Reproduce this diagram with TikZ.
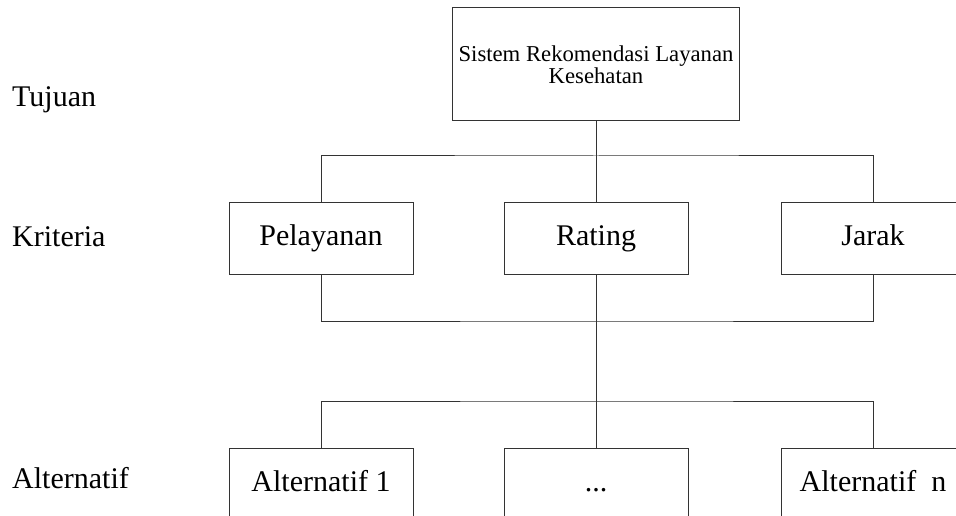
\documentclass[tikz,border=0pt]{standalone}
\usepackage{fontspec}
\setmainfont{Liberation Serif}
\usetikzlibrary{positioning}

\tikzset{
	box/.style={draw, line width=1pt, color=black!80, text=black, minimum width=184pt, minimum height=72pt, inner sep=0pt, text height=21pt, text depth=7pt, font=\fontsize{30}{36}\selectfont},
	goalbox/.style={draw, line width=1pt, color=black!80, text=black, minimum width=287pt, minimum height=113pt, inner sep=0pt, align=center, font=\fontsize{22.7}{24.5}\selectfont},
	level/.style={anchor=base west, inner sep=0pt, font=\fontsize{30}{36}\selectfont},
	link/.style={line width=1pt, color=black!80}
}

\begin{document}
\begin{tikzpicture}[x=1pt, y=-1pt]
			\clip (0,0) rectangle (956,516);
			\fill[white] (0,0) rectangle (956,516);

			\node[level] (tujuan) at (12,107) {Tujuan};
			\node[level] (kriteria) at (12,246) {Kriteria};
			\node[level] (alternatif) at (12,488) {Alternatif};

			\node[goalbox] (goal) at (596,64.5) {\raisebox{-3pt}{Sistem Rekomendasi Layanan}\\Kesehatan};

			\node[box] (pelayanan) at (321,238) {Pelayanan};
			\node[box] (rating) at (596,238) {Rating};
			\node[box] (jarak) at (873,238) {Jarak};

			\node[box] (alt1) at (321,484) {Alternatif 1};
			\node[box] (altdots) at (596,484) {...};
			\node[box] (altn) at (873,484) {Alternatif\ \ n};

			\coordinate (topbar) at (596,156);
			\coordinate (midbar) at (596,321);
			\coordinate (lowbar) at (596,401);

			\draw[link] (goal) -- (rating);
			\draw[link] (pelayanan.north) |- (topbar) -| (jarak.north);

			\draw[link] (pelayanan.south) |- (midbar) -| (jarak.south);
			\draw[link] (rating) -- (altdots);

			\draw[link] (alt1.north) |- (lowbar) -| (altn.north);
		\end{tikzpicture}
\end{document}
